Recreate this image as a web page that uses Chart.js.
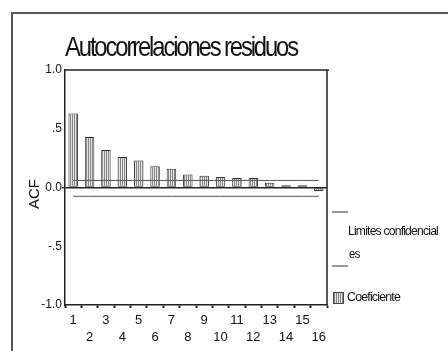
<!DOCTYPE html>
<html>
<head>
<meta charset="utf-8">
<script src="https://cdn.jsdelivr.net/npm/chart.js@4.4.1/dist/chart.umd.min.js"></script>
<style>
  body{margin:0;background:#fff;}
  #wrap{width:448px;height:351px;position:relative;}
</style>
</head>
<body>
<div id="wrap"><canvas id="acfChart" width="448" height="351"></canvas></div>
<script>
// datos
var lags=[1,2,3,4,5,6,7,8,9,10,11,12,13,14,15,16];
var acf=[0.63,0.43,0.32,0.26,0.23,0.18,0.16,0.11,0.10,0.09,0.08,0.08,0.04,0.02,0.02,-0.03];
var limSup=[0.06,0.06,0.06,0.06,0.06,0.06,0.06,0.06,0.06,0.06,0.06,0.06,0.06,0.06,0.06,0.06];
var limInf=[-0.075,-0.075,-0.075,-0.075,-0.075,-0.075,-0.075,-0.075,-0.075,-0.075,-0.075,-0.075,-0.075,-0.075,-0.075,-0.075];
var yTicks={"1":"1.0","0.5":".5","0":"0.0","-0.5":"-.5","-1":"-1.0"};

// etiquetas en dos filas (impares arriba, pares abajo)
var etiquetas=[];
for(var i in lags){
  if(lags[i]%2==1) etiquetas.push(String(lags[i]));
  else etiquetas.push(['',String(lags[i])]);
}

var ctx0=document.getElementById('acfChart').getContext('2d');

// trama de las barras
var pc=document.createElement('canvas');
pc.width=2;pc.height=2;
var px=pc.getContext('2d');
px.fillStyle='#e4e4e4';px.fillRect(0,0,2,2);
px.fillStyle='#888';px.fillRect(0,0,1,2);
var trama=ctx0.createPattern(pc,'repeat');

function textoComprimido(c,t,x,y,ancho,esp){
  c.save();
  c.letterSpacing=esp+'px';
  var w=c.measureText(t).width;
  c.translate(x,y);
  c.scale(ancho/w,1);
  c.fillText(t,0,0);
  c.restore();
}

var decorado={
  id:'decorado',
  beforeDraw:function(chart){
    var c=chart.ctx;
    c.save();
    c.fillStyle='#fff';c.fillRect(0,0,chart.width,chart.height);
    // marco exterior
    c.strokeStyle='#555';c.lineWidth=2;
    c.beginPath();c.moveTo(12,351);c.lineTo(12,13);c.lineTo(448,13);c.stroke();
    c.restore();
  },
  afterDraw:function(chart){
    var c=chart.ctx, a=chart.chartArea;
    c.save();
    // borde del area
    c.strokeStyle='#222';c.lineWidth=1.5;
    c.beginPath();c.moveTo(a.left,a.top);c.lineTo(a.right+2,a.top);
    c.moveTo(a.right,a.top);c.lineTo(a.right,a.bottom);c.stroke();
    // titulo comprimido
    c.fillStyle='#111';
    c.font='28px "Liberation Sans", Arial, sans-serif';
    c.textBaseline='alphabetic';
    textoComprimido(c,'Autocorrelaciones residuos',65,56,232,-2.5);
    // ACF
    c.save();
    c.font='15px "Liberation Sans", Arial, sans-serif';
    c.translate(35,194);c.rotate(-Math.PI/2);
    c.textAlign='center';c.textBaseline='middle';
    c.fillText('ACF',0,0);
    c.restore();
    // leyenda
    c.strokeStyle='#333';c.lineWidth=1;
    c.beginPath();c.moveTo(332,212);c.lineTo(348,212);c.stroke();
    c.beginPath();c.moveTo(332,266);c.lineTo(348,266);c.stroke();
    c.fillStyle='#111';
    c.font='12px "Liberation Sans", Arial, sans-serif';
    c.textBaseline='middle';
    textoComprimido(c,'Limites confidencial',348,232,90,-0.8);
    textoComprimido(c,'es',349,255,11,-0.5);
    c.fillStyle=trama;c.fillRect(333,292,10,11);
    c.strokeStyle='#444';c.strokeRect(333.5,292.5,10,11);
    c.fillStyle='#111';
    textoComprimido(c,'Coeficiente',347,298,53,-0.8);
    c.restore();
  }
};

var chardata={
  labels:etiquetas,
  datasets:[
    {
      type:'line',
      label:'Limites confidenciales',
      data:limSup,
      borderColor:'#555',
      borderWidth:1,
      pointRadius:0,
      fill:false,
      order:0
    },
    {
      type:'line',
      label:'Limites confidenciales inf',
      data:limInf,
      borderColor:'#555',
      borderWidth:1,
      pointRadius:0,
      fill:false,
      order:0
    },
    {
      type:'bar',
      label:'Coeficiente',
      data:acf,
      backgroundColor:trama,
      borderColor:'#333',
      borderWidth:1,
      borderSkipped:false,
      barPercentage:0.58,
      categoryPercentage:1,
      order:1
    }
  ]
};

var grafico=new Chart(ctx0,{
  type:'bar',
  data:chardata,
  plugins:[decorado],
  options:{
    responsive:false,
    animation:false,
    layout:{padding:{left:0,top:70,right:121,bottom:0}},
    plugins:{legend:{display:false},tooltip:{enabled:false}},
    scales:{
      x:{
        offset:true,
        afterFit:function(s){s.height=46;},
        grid:{drawOnChartArea:false,tickLength:3,color:'#222',tickWidth:2},
        border:{color:'#222',width:1.5},
        ticks:{autoSkip:false,maxRotation:0,color:'#111',padding:4,
          font:{family:'"Liberation Sans", Arial, sans-serif',size:13,lineHeight:1.3}}
      },
      y:{
        min:-1,max:1,
        afterFit:function(s){s.width=65;},
        grid:{
          drawOnChartArea:true,tickLength:3,
          color:function(c){return c.tick && c.tick.value===0 ? '#222' : 'rgba(0,0,0,0)';},
          lineWidth:function(c){return c.tick && c.tick.value===0 ? 1.5 : 1;}
        },
        border:{color:'#222',width:1.5},
        ticks:{stepSize:0.5,color:'#111',padding:0,
          callback:function(v){return yTicks[String(v)];},
          font:{family:'"Liberation Sans", Arial, sans-serif',size:12}}
      }
    }
  }
});
</script>
</body>
</html>
